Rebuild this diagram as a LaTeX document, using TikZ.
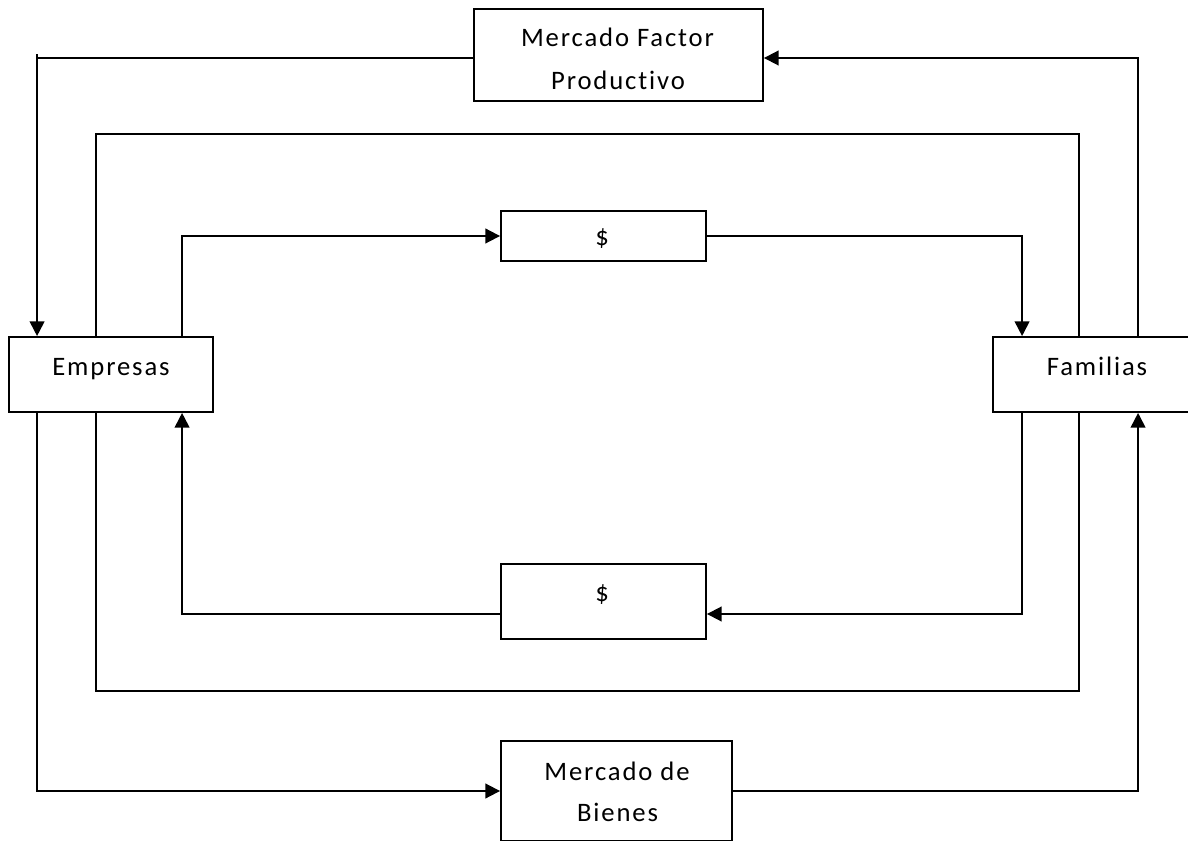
\documentclass[tikz,border=0pt]{standalone}
\usepackage{fontspec}
\setmainfont{Carlito}[LetterSpace=7,Ligatures=NoCommon]
\usetikzlibrary{calc,arrows.meta}
\begin{document}
\begin{tikzpicture}[x=0.75pt,y=-0.75pt,
  box/.style={draw,line width=1.4pt,fill=white,inner sep=0pt},
  lbl/.style={anchor=base,inner sep=0pt,font=\fontsize{20pt}{32pt}\selectfont},
  link/.style={line width=1.4pt},
  arr/.style={link,-{Triangle[length=11pt,width=11pt]}}]
\clip (0,0) rectangle (1188,841);
\fill[white] (0,0) rectangle (1188,841);
% boxes
\node[box,minimum width=289*0.75pt,minimum height=92*0.75pt] (mfp) at (618.5,55) {};
\node[box,minimum width=204*0.75pt,minimum height=75*0.75pt] (emp) at (111,374.5) {};
\node[box,minimum width=240*0.75pt,minimum height=75*0.75pt] (fam) at (1113,374.5) {};
\node[box,minimum width=205*0.75pt,minimum height=50*0.75pt] (d1) at (603.5,236) {};
\node[box,minimum width=205*0.75pt,minimum height=75*0.75pt] (d2) at (603.5,601.5) {};
\node[box,minimum width=231*0.75pt,minimum height=100*0.75pt] (mdb) at (616.5,791) {};
% texts
\node[lbl] (mfp1) at (617.5,47) {Mercado Factor};
\node[lbl] (mfp2) at (618,90) {Productivo};
\node[lbl] (empt) at (111,375) {Empresas};
\node[lbl] (famt) at (1097,375) {Familias};
\node[lbl] (d1t) at (602,246) {\$};
\node[lbl] (d2t) at (602,601) {\$};
\node[lbl] (mdb1) at (617,780) {Mercado de};
\node[lbl] (mdb2) at (617.5,821) {Bienes};
% outer top loop
\draw[link] ($(mfp.west)+(0,3)$) -| ($(emp.north west)+(29,-279)$);
\draw[arr] ($(emp.north west)+(29,-282)$) -- ($(emp.north west)+(29,0)$);
\draw[arr] ($(fam.north west)+(146,0)$) |- ($(mfp.east)+(0,3)$);
% middle rectangle
\draw[link] ($(emp.north west)+(88,0)$) -- ++(0,-202) -| ($(fam.north west)+(87,0)$);
\draw[link] ($(emp.south west)+(88,0)$) -- ++(0,278) -| ($(fam.south west)+(87,0)$);
% inner money loop
\draw[arr] ($(emp.north west)+(174,0)$) |- (d1.west);
\draw[arr] (d1.east) -| ($(fam.north west)+(30,0)$);
\draw[arr] ($(fam.south west)+(30,0)$) |- ($(d2.east)+(0,12.5)$);
\draw[arr] ($(d2.west)+(0,12.5)$) -| ($(emp.south west)+(174,0)$);
% outer bottom loop
\draw[arr] ($(emp.south west)+(29,0)$) |- (mdb.west);
\draw[arr] (mdb.east) -| ($(fam.south west)+(146,0)$);
\end{tikzpicture}
\end{document}
